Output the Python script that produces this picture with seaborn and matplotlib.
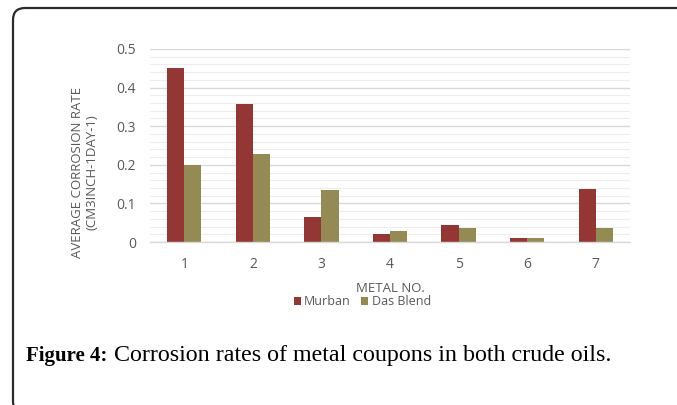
import matplotlib
matplotlib.use("Agg")
import matplotlib.pyplot as plt
from matplotlib.patches import FancyBboxPatch
from matplotlib.transforms import IdentityTransform
from matplotlib.ticker import MultipleLocator
import pandas as pd
import seaborn as sns

metals = ["1", "2", "3", "4", "5", "6", "7"]
murban = [0.450, 0.357, 0.066, 0.022, 0.045, 0.010, 0.138]
das_blend = [0.200, 0.228, 0.135, 0.028, 0.035, 0.010, 0.037]
series = ["Murban", "Das Blend"]
colors = ["#943634", "#948a54"]

df = pd.DataFrame({
    "metal": metals * 2,
    "rate": murban + das_blend,
    "oil": [series[0]] * len(metals) + [series[1]] * len(metals),
})

sns.set_theme(style="white")
plt.rcParams["font.family"] = ["Open Sans", "DejaVu Sans"]

W, H = 677, 405
fig = plt.figure(figsize=(W / 100, H / 100), dpi=100)
ax = fig.add_axes([150 / W, 1 - 242 / H, 480 / W, 193 / H])

sns.barplot(data=df, x="metal", y="rate", hue="oil", palette=colors,
            width=0.5, gap=0, saturation=1, ax=ax, legend=True,
            linewidth=0)

ax.set_ylim(0, 0.5)
ax.yaxis.set_minor_locator(MultipleLocator(0.02))
ax.set_yticks([0, 0.1, 0.2, 0.3, 0.4, 0.5])
ax.set_yticklabels(["0", "0.1", "0.2", "0.3", "0.4", "0.5"])
ax.grid(axis="y", which="major", color="#d9d9d9", linewidth=1.0)
ax.grid(axis="y", which="minor", color="#eeeeee", linewidth=0.8)
ax.set_axisbelow(True)
for side in ["top", "right", "left"]:
    ax.spines[side].set_visible(False)
ax.spines["bottom"].set_color("#d9d9d9")
ax.spines["bottom"].set_linewidth(1.0)
ax.tick_params(axis="both", which="both", length=0, colors="#595959",
               labelsize=10)
ax.tick_params(axis="y", pad=10)
ax.tick_params(axis="x", pad=11)

ax.set_xlabel("METAL NO.", color="#595959", fontsize=9.5, labelpad=7)
ax.set_ylabel("AVERAGE CORROSION RATE\n(CM3INCH-1DAY-1)", color="#595959",
              fontsize=9.5, linespacing=1.15)
ax.yaxis.set_label_coords(-0.108, 0.36)

ax.legend(loc="upper center", bbox_to_anchor=(0.442, -0.25), ncol=2,
          frameon=False, fontsize=9, handlelength=0.6, handleheight=0.6,
          handletextpad=0.25, columnspacing=0.8, labelcolor="#595959",
          borderaxespad=0)

# caption: bold label followed by regular text
cap_y = 1 - 356 / H
t1 = fig.text(26 / W, cap_y, "Figure 4:", fontsize=15, fontweight="bold",
              family="Liberation Serif", va="center", ha="left", color="black")
fig.canvas.draw()
bb = t1.get_window_extent()
fig.text((bb.x1 + 7) / W, cap_y,
         "Corrosion rates of metal coupons in both crude oils.",
         fontsize=17.3, family="Liberation Serif", va="center", ha="left",
         color="black")

# rounded border around the figure panel
frame = FancyBboxPatch((13, -8), 700, 405, boxstyle="round,pad=0,rounding_size=12",
                       transform=IdentityTransform(), fill=False,
                       edgecolor="#2b2b2b", linewidth=1.6)
fig.add_artist(frame)

fig.savefig("out.png", dpi=100)
